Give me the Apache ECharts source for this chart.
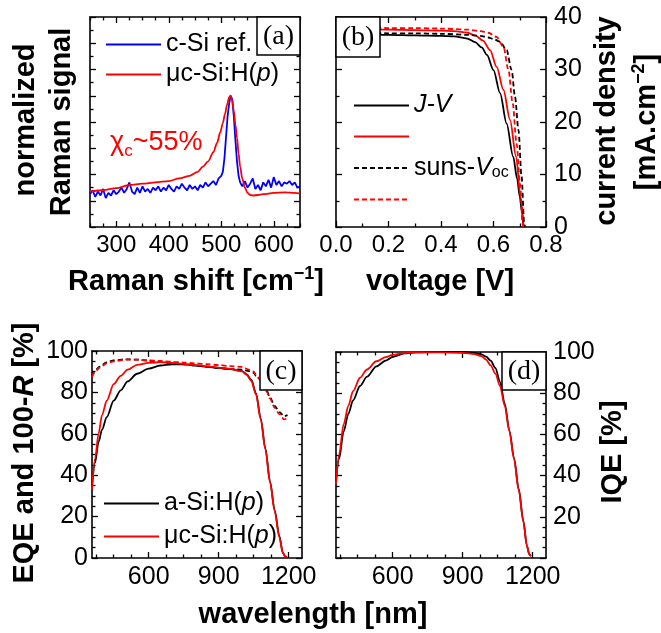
<!DOCTYPE html>
<html><head><meta charset="utf-8">
<script src="https://cdn.jsdelivr.net/npm/echarts@6/dist/echarts.min.js"></script>
<style>html,body{margin:0;padding:0;background:#fff}#c{width:661px;height:633px}</style>
</head><body><div id="c"></div>
<script>
// ---------- (a) Raman ----------
const ramanRedX = [250,275,300,325,350,375,400,420,440,455,465,475,485,492,498,503,507,511,515,518,521,524,527,530,533,536,540,545,550,555,560,570,580,600,620,640,650];
const ramanRedY = [1.35,1.4,1.48,1.6,1.65,1.7,1.75,1.85,1.95,2.1,2.3,2.5,2.85,3.2,3.6,3.95,4.3,4.65,4.95,5.0,4.8,4.4,3.9,3.4,2.8,2.3,1.85,1.5,1.3,1.22,1.2,1.22,1.25,1.3,1.32,1.3,1.28];
const ramanBlueX = [250,255,260,265,270,275,280,285,290,295,300,305,310,315,320,325,330,335,340,345,350,355,360,365,370,375,380,385,390,395,400,405,410,415,420,425,430,435,440,445,450,455,460,465,470,475,480,485,490,495,500,503,506,509,512,515,518,521,524,527,530,533,536,540,545,550,555,560,565,570,575,580,585,590,595,600,605,610,615,620,625,630,635,640,645,650];
const ramanBlueY = [1.25,1.4,1.15,1.35,1.2,1.45,1.1,1.3,1.2,1.4,1.25,1.35,1.5,1.3,1.45,1.7,1.35,1.25,1.5,1.3,1.55,1.35,1.45,1.3,1.5,1.4,1.55,1.35,1.5,1.4,1.6,1.45,1.35,1.55,1.45,1.65,1.5,1.4,1.6,1.45,1.55,1.4,1.6,1.5,1.7,1.55,1.65,1.75,1.6,1.85,1.95,2.1,2.6,3.4,4.2,4.7,5.0,4.85,4.2,3.3,2.5,1.95,1.7,1.55,1.75,1.5,1.65,1.85,1.45,1.6,1.4,1.7,1.55,1.8,1.5,1.9,1.6,1.75,1.55,1.7,1.65,1.75,1.6,1.7,1.5,1.55];
const ramanTicks = [300,400,500,600];

// ---------- (b) J-V ----------
const jvBlackV = [0,0.1,0.2,0.3,0.4,0.45,0.5,0.53,0.555,0.575,0.6,0.625,0.65,0.675,0.69,0.70,0.708,0.714];
const jvBlackJ = [36.7,36.7,36.6,36.5,36.4,36.3,35.9,35.2,34.2,32.8,29.9,25.5,19.7,13.4,9.2,5.8,3.0,0];
const jvRedV = [0,0.1,0.2,0.3,0.4,0.45,0.5,0.53,0.56,0.587,0.612,0.638,0.663,0.686,0.703,0.714];
const jvRedJ = [37.7,37.7,37.6,37.5,37.4,37.3,37.0,36.5,35.5,33.7,30.5,26.1,20.4,13.4,5.8,0.3];
const sunsBlackV = [0,0.1,0.2,0.3,0.4,0.5,0.55,0.58,0.6,0.625,0.65,0.669,0.682,0.695,0.707,0.717,0.72];
const sunsBlackJ = [37.0,37.0,36.9,36.9,36.8,36.6,36.4,36.1,35.8,35.3,33.7,29.9,24.8,18.5,9.6,0.7,0];
const sunsRedV = [0,0.1,0.2,0.3,0.4,0.5,0.55,0.58,0.612,0.638,0.657,0.673,0.688,0.701,0.711,0.714];
const sunsRedJ = [38.0,38.0,37.9,37.9,37.8,37.6,37.3,37.0,36.2,34.3,29.9,23.6,15.9,8.3,0.7,0];
const voltTicks = [0,0.2,0.4,0.6,0.8];
const jTicks = [0,10,20,30,40];

// ---------- (c) EQE and 100-R ----------
const eqeWl = [357,370,385,400,420,450,480,510,550,600,650,700,750,800,850,900,950,1000,1020,1040,1060,1080,1100,1120,1140,1160,1175,1185,1192];
const eqeBlack = [34.5,46,56,62,68,76,81,85.3,89,91.5,93,93.6,93.5,93,92.3,91.8,91.3,90.3,88.7,86,79.5,67.5,53,37,23,10.5,2.5,0.8,0.3];
const eqeRed = [33,48,60,69,76,84,88,91,93.3,94.3,94.6,94.3,93.8,93.2,92.6,92,91.4,90.2,88.5,85.5,79,67,52.5,36.5,22.5,10,2.5,0.8,0.3];
const refWl = [357,370,390,420,450,500,550,600,650,700,750,800,850,900,950,1000,1030,1050,1060,1075,1090,1105,1120,1140,1160,1180,1195];
const refBlack = [88,90.5,92.5,94.5,95.5,96,95.8,95.3,94.7,94.2,93.6,93,92.4,91.8,91.2,91,90.3,89.5,88,86.5,84,81,77.5,73.5,70.5,68.5,69];
const refRed = [87.5,90,92,94,95,95.8,95.8,95.5,95.2,94.8,94.4,94,93.6,93.2,92.7,92.3,91,90,88.5,86.5,83.5,80.5,77,72.5,69.5,67,67.5];

// ---------- (d) IQE ----------
const iqeWl = [357,370,390,410,430,460,490,530,570,600,650,700,800,900,950,980,1000,1020,1040,1060,1080,1100,1120,1140,1160,1175,1185,1192];
const iqeBlack = [37,48,61.5,70,76.5,83.5,88,93,95.8,97.6,99.3,99.8,100,100,99.6,98.8,97.8,95.8,92.3,85.5,75,62,48.5,33.5,18,6,2,1];
const iqeRed = [36,50,65,74,81,87.5,91.5,95.5,97.5,98.6,99.5,99.8,99.8,99.6,99,98,96.3,93.5,89.5,83.5,74,61.5,48,33,17.5,6,1.8,0.8];
const wlTicks = [600,900,1200];
const pctTicksC = [0,20,40,60,80,100];
const pctTicksD = [20,40,60,80,100];

// ---------- helpers ----------
const SANS = '"Liberation Sans", Arial, sans-serif';
const SERIF = '"Liberation Serif", "Times New Roman", serif';
function range(a, b, s) { const r = []; for (let v = a; v <= b + 1e-9; v += s) r.push(+v.toFixed(6)); return r; }
function minors(a, b, s, major) { return range(a, b, s).filter(v => Math.abs(v / major - Math.round(v / major)) > 1e-6); }

function mkAxis(grid, pos, min, max, tickVals, len, label, showLine) {
  return {
    type: 'value', gridIndex: grid, position: pos, min: min, max: max,
    axisLine: { show: showLine, onZero: false, lineStyle: { color: '#000', width: 1.6 } },
    axisTick: { show: true, inside: true, length: len, customValues: tickVals, lineStyle: { color: '#000', width: 1.3 } },
    axisLabel: label ? { show: true, customValues: label.vals, fontFamily: SANS, fontSize: label.size, color: '#000', margin: label.margin, formatter: label.fmt || (v => String(v)) } : { show: false },
    splitLine: { show: false }, splitArea: { show: false }
  };
}
const xAxes = [], yAxes = [];
function panelAxes(g, xr, yr, xLabel, yLabel, yLabelSide) {
  const xMaj = range(xr.start, xr.max, xr.major), xMin = minors(xr.minStart, xr.max, xr.minor, xr.major);
  const yMaj = range(yr.start, yr.max, yr.major), yMin = minors(yr.minStart, yr.max, yr.minor, yr.major);
  xAxes.push(mkAxis(g, 'bottom', xr.min, xr.max, xMaj, 6, xLabel, true));
  xAxes.push(mkAxis(g, 'bottom', xr.min, xr.max, xMin, 3.5, null, false));
  xAxes.push(mkAxis(g, 'top', xr.min, xr.max, xMaj, 6, null, true));
  xAxes.push(mkAxis(g, 'top', xr.min, xr.max, xMin, 3.5, null, false));
  yAxes.push(mkAxis(g, 'left', yr.min, yr.max, yMaj, 6, yLabelSide === 'left' ? yLabel : null, true));
  yAxes.push(mkAxis(g, 'left', yr.min, yr.max, yMin, 3.5, null, false));
  yAxes.push(mkAxis(g, 'right', yr.min, yr.max, yMaj, 6, yLabelSide === 'right' ? yLabel : null, true));
  yAxes.push(mkAxis(g, 'right', yr.min, yr.max, yMin, 3.5, null, false));
}

const grids = [
  { left: 90, top: 17, width: 210, height: 210 },
  { left: 336, top: 17, width: 210, height: 210 },
  { left: 92, top: 351, width: 210, height: 207 },
  { left: 336, top: 352, width: 210, height: 206 }
];

panelAxes(0, { min: 250, max: 650, start: 300, major: 100, minStart: 250, minor: 25 },
  { min: 0, max: 8, start: 0, major: 1, minStart: 0, minor: 0.5 },
  { vals: ramanTicks, size: 24, margin: 6 }, null, 'left');
panelAxes(1, { min: 0, max: 0.8, start: 0, major: 0.2, minStart: 0, minor: 0.1 },
  { min: 0, max: 40, start: 0, major: 10, minStart: 0, minor: 5 },
  { vals: voltTicks, size: 24, margin: 6, fmt: v => v.toFixed(1) },
  { vals: jTicks, size: 25, margin: 8 }, 'right');
panelAxes(2, { min: 357, max: 1257, start: 600, major: 300, minStart: 375, minor: 75 },
  { min: 0, max: 100, start: 0, major: 20, minStart: 0, minor: 5 },
  { vals: wlTicks, size: 25, margin: 7 },
  { vals: pctTicksC, size: 25, margin: 4 }, 'left');
panelAxes(3, { min: 357, max: 1257, start: 600, major: 300, minStart: 375, minor: 75 },
  { min: 0, max: 100, start: 0, major: 20, minStart: 0, minor: 5 },
  { vals: wlTicks, size: 25, margin: 7 },
  { vals: pctTicksD, size: 25, margin: 7 }, 'right');

function line(name, g, xs, ys, color, dashed, smooth) {
  return {
    type: 'line', name: name, xAxisIndex: 4 * g, yAxisIndex: 4 * g,
    data: xs.map((x, i) => [x, ys[i]]), symbol: 'none', showSymbol: false,
    smooth: smooth, smoothMonotone: 'x', clip: true, animation: false,
    lineStyle: { color: color, width: 1.8, type: dashed ? [5, 3] : 'solid' },
    itemStyle: { color: color }
  };
}
const BLK = '#000000', RED = '#ff0000', BLU = '#0000ff';
const series = [
  line('a_blue', 0, ramanBlueX, ramanBlueY, BLU, false, false),
  line('a_red', 0, ramanRedX, ramanRedY, RED, false, 0.3),
  line('b_jv_k', 1, jvBlackV, jvBlackJ, BLK, false, 0.3),
  line('b_jv_r', 1, jvRedV, jvRedJ, RED, false, 0.3),
  line('b_s_k', 1, sunsBlackV, sunsBlackJ, BLK, true, 0.3),
  line('b_s_r', 1, sunsRedV, sunsRedJ, RED, true, 0.3),
  line('c_ref_k', 2, refWl, refBlack, BLK, true, 0.3),
  line('c_ref_r', 2, refWl, refRed, RED, true, 0.3),
  line('c_k', 2, eqeWl, eqeBlack, BLK, false, 0.3),
  line('c_r', 2, eqeWl, eqeRed, RED, false, 0.3),
  line('d_k', 3, iqeWl, iqeBlack, BLK, false, 0.3),
  line('d_r', 3, iqeWl, iqeRed, RED, false, 0.3)
];

const LABELS = {
  a_blue: '{t|c-Si ref.}',
  a_red: '{t|\u03bcc-Si:H(}{i|p}{t|)}',
  b_jv_k: '{i|J-V}',
  b_jv_r: '{t| }',
  b_s_k: '{t|suns-}{i|V}{sub|oc}',
  b_s_r: '{t| }',
  c_k: '{t|a-Si:H(}{i|p}{t|)}',
  c_r: '{t|\u03bcc-Si:H(}{i|p}{t|)}'
};
const richLeg = {
  t: { fontFamily: SANS, fontSize: 25, lineHeight: 26, color: '#000' },
  i: { fontFamily: SANS, fontSize: 25, lineHeight: 26, fontStyle: 'italic', color: '#000' },
  sub: { fontFamily: SANS, fontSize: 16, lineHeight: 26, padding: [10, 0, 0, 0], color: '#000' }
};
function legend(names, left, top, gap) {
  return {
    data: names, orient: 'vertical', left: left, top: top, itemWidth: 55, itemHeight: 26, itemGap: gap,
    selectedMode: false, formatter: n => LABELS[n],
    itemStyle: { opacity: 0, borderWidth: 0 },
    textStyle: { rich: richLeg, fontSize: 25, fontFamily: SANS, color: '#000' }
  };
}

function box(x, y, w, h, txt) {
  return {
    type: 'group', z: 100, children: [
      { type: 'rect', shape: { x: x, y: y, width: w, height: h }, style: { fill: '#fff', stroke: '#000', lineWidth: 1.5 }, z: 100 },
      { type: 'text', x: x + w / 2, y: y + h / 2 + 1, z: 101, style: { text: txt, font: '28px ' + SERIF, fill: '#000', align: 'center', verticalAlign: 'middle', textAlign: 'center', textVerticalAlign: 'middle' } }
    ]
  };
}
const titleRich = {
  b: { fontFamily: SANS, fontSize: 29, fontWeight: 'bold', fill: '#000', color: '#000' },
  bi: { fontFamily: SANS, fontSize: 29, fontWeight: 'bold', fontStyle: 'italic', fill: '#000', color: '#000' },
  sup: { fontFamily: SANS, fontSize: 18, fontWeight: 'bold', padding: [0, 0, 15, 0], fill: '#000', color: '#000' }
};
function title(txt, x, y, rot) {
  return {
    type: 'text', x: x, y: y, rotation: rot ? Math.PI / 2 : 0, z: 100,
    style: { text: txt, rich: titleRich, font: 'bold 29px ' + SANS, fill: '#000', align: 'center', verticalAlign: 'middle', textAlign: 'center', textVerticalAlign: 'middle' }
  };
}

const option = {
  backgroundColor: '#fff',
  animation: false,
  grid: grids,
  xAxis: xAxes,
  yAxis: yAxes,
  series: series,
  legend: [
    legend(['a_blue', 'a_red'], 100, 27, 5),
    legend(['b_jv_k', 'b_jv_r', 'b_s_k', 'b_s_r'], 348, 88, 6),
    legend(['c_k', 'c_r'], 98, 486, 8)
  ],
  graphic: [
    box(257, 17, 43, 38, '(a)'),
    box(336, 17, 44, 40, '(b)'),
    box(260, 351, 42, 39, '(c)'),
    box(502, 352, 44, 38, '(d)'),
    title('{b|Raman shift [cm}{sup|\u22121}{b|]}', 196, 282, false),
    title('{b|voltage [V]}', 440, 282, false),
    title('{b|normalized}', 26, 120, true),
    title('{b|Raman signal}', 62, 122, true),
    title('{b|current density}', 607, 121, true),
    title('{b|[mA.cm}{sup|\u22122}{b|]}', 647, 122, true),
    title('{b|EQE and 100-}{bi|R}{b| [%]}', 25, 453, true),
    title('{b|IQE [%]}', 613, 452, true),
    title('{b|wavelength [nm]}', 313, 615, false),
    {
      type: 'text', x: 110, y: 143, z: 100,
      style: {
        text: '{r|\u03c7}{s|c}{r|~55%}', align: 'left', verticalAlign: 'middle', textAlign: 'left', textVerticalAlign: 'middle',
        rich: {
          r: { fontFamily: SANS, fontSize: 27, fill: '#ff0000', color: '#ff0000', lineHeight: 28 },
          s: { fontFamily: SANS, fontSize: 17, fill: '#ff0000', color: '#ff0000', padding: [16, 0, 0, 0] }
        }
      }
    }
  ]
};
const chart = echarts.init(document.getElementById('c'), null, { renderer: 'canvas' });
chart.setOption(option);
</script>
</body></html>
